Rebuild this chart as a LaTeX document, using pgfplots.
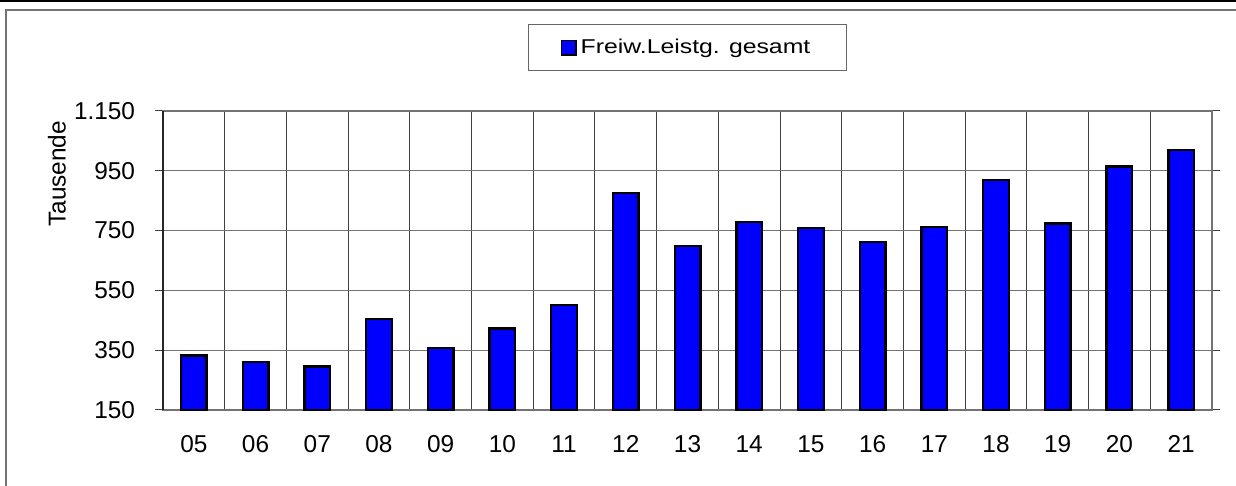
\documentclass[border=0pt]{standalone}
\usepackage{pgfplots}
\pgfplotsset{compat=1.18}
\usepackage{fontspec}
\setmainfont{Liberation Sans}
\newfontfamily\legfont{Liberation Sans}[FakeStretch=1.24]
\begin{document}
\begin{tikzpicture}
\fontsize{12.2}{14}\selectfont
\path[use as bounding box] (0pt,0pt) rectangle (618pt,243pt);
\draw[black, line width=1pt] (0pt,242.6pt) -- (618pt,242.6pt);
\draw[black!55, line width=0.7pt] (3pt,0pt) -- (3pt,238pt) -- (618pt,238pt);
\begin{axis}[
  at={(81.5pt,38pt)}, anchor=south west,
  scale only axis, width=524.5pt, height=149.5pt,
  xmin=-0.5, xmax=16.5, ymin=150, ymax=1150,
  xtick={0,...,16},
  xticklabels={05,06,07,08,09,10,11,12,13,14,15,16,17,18,19,20,21},
  minor xtick={-0.5,0.5,...,16.5},
  xminorgrids=true,
  minor x grid style={black!75, line width=0.5pt},
  x tick style={draw=none},
  minor x tick style={draw=none},
  ytick={150,350,...,1150},
  ymajorgrids=true,
  major y grid style={black!55, line width=0.6pt},
  y tick style={black!75, line width=0.5pt},
  major tick length=4pt,
  tick align=outside,
  axis line style={black!55, line width=0.6pt},
  tick label style={font=\fontsize{12.2}{14}\selectfont},
  /pgf/number format/assume math mode=true,
  yticklabel style={/pgf/number format/1000 sep={.}, xshift=-5.7pt},
  xticklabel style={yshift=-4.5pt},
  legend style={at={(0.5,1.212)}, anchor=center, draw=black!60, line width=0.5pt,
    font=\legfont\fontsize{10}{12}\selectfont, inner xsep=16pt, inner ysep=5pt},
  legend image code/.code={\draw[fill=blue, draw=black, line width=0.8pt] (0pt,-3.6pt) rectangle (7.2pt,3.6pt);},
  clip=false,
]
\addplot[ybar, bar width=12.8pt, fill=blue, draw=black, line width=1.2pt, bar shift=0pt]
  coordinates {(0,332) (1,310) (2,296) (3,454) (4,358) (5,423) (6,501) (7,875) (8,698)
  (9,779) (10,758) (11,711) (12,762) (13,919) (14,774) (15,964) (16,1020)};
\addlegendentry{Freiw.Leistg. gesamt}
\draw[black!85, line width=0.6pt] (rel axis cs:0,0) -- (rel axis cs:0,1);
\node[xshift=-53pt, rotate=90, font=\fontsize{12.2}{14}\selectfont] at (rel axis cs:0,0.79) {Tausende};
\end{axis}
\end{tikzpicture}
\end{document}
